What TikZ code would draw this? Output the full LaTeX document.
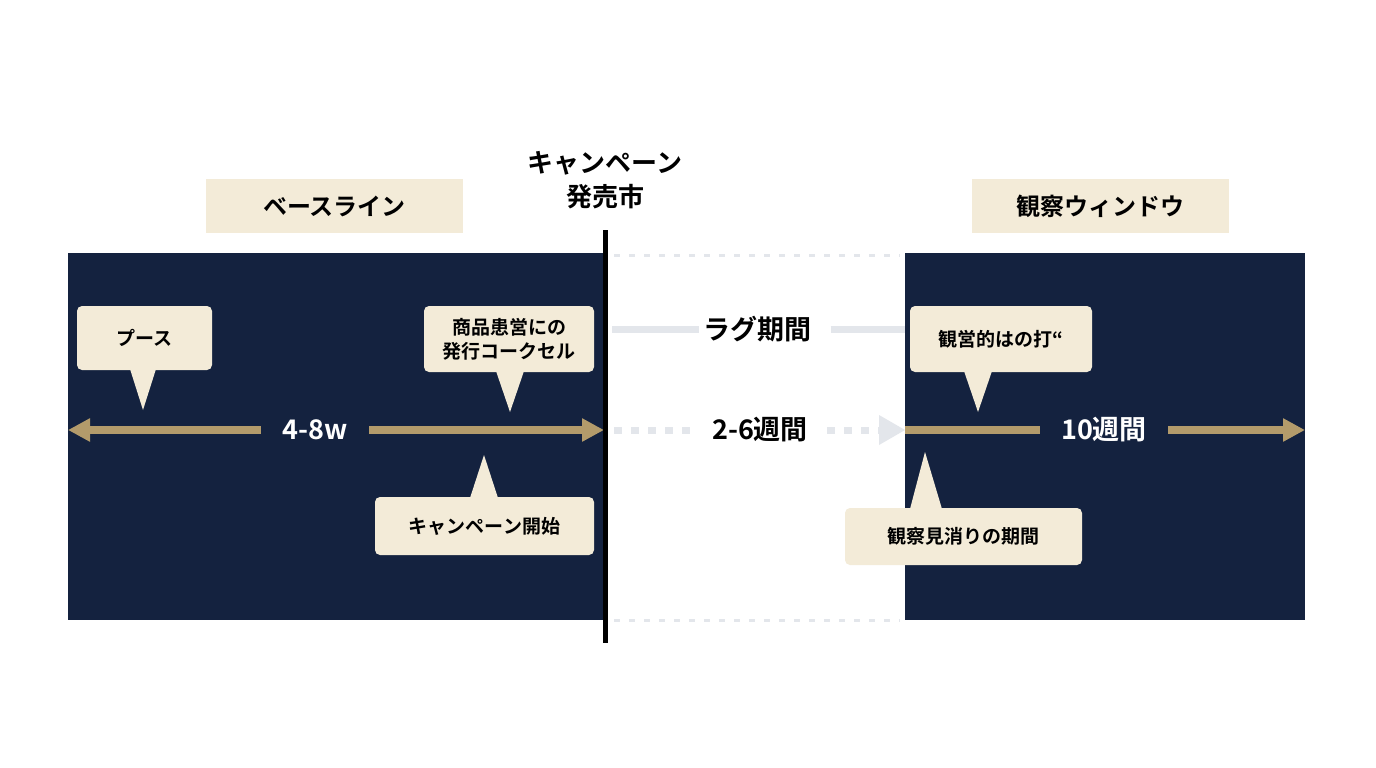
\documentclass[tikz,border=0pt]{standalone}
\usepackage{fontspec}
\newfontfamily\cjk{Noto Sans CJK JP}[BoldFont={Noto Sans CJK JP Bold}]
\usetikzlibrary{arrows.meta}
\definecolor{navy}{HTML}{14223F}
\definecolor{beige}{HTML}{F3EBD8}
\definecolor{gold}{HTML}{B39B6B}
\definecolor{lgrey}{HTML}{E3E6EB}
\tikzset{
  panel/.style={fill=navy,draw=none},
  tag/.style={fill=beige,draw=none,font=\cjk\bfseries\fontsize{24}{28}\selectfont,inner sep=0pt,anchor=center},
  callout/.style={fill=beige,draw=none,rounded corners=5pt,font=\cjk\bfseries\fontsize{19}{24}\selectfont,align=center,inner sep=0pt,anchor=center},
  tail/.style={fill=beige,draw=none},
  goldline/.style={draw=gold,line width=8pt},
  greyline/.style={draw=lgrey,line width=7pt},
  dots/.style={draw=lgrey,line width=3pt,dash pattern=on 6pt off 9pt},
  bigdots/.style={draw=lgrey,line width=7pt,dash pattern=on 8pt off 9pt},
  midtext/.style={font=\cjk\bfseries\fontsize{27}{30}\selectfont,text=black},
  wtext/.style={font=\cjk\bfseries\fontsize{27}{30}\selectfont,text=white}
}
\begin{document}
\begin{tikzpicture}[x=1pt,y=-1pt]
\useasboundingbox[fill=white] (0,0) rectangle (1376,768);
\fill[panel] (68,253) rectangle (604,620);
\fill[panel] (905,253) rectangle (1305,620);
% dotted frame lines
\draw[dots] (614,255) -- (900,255);
\draw[dots] (614,620) -- (900,620);
% lag
\node[midtext] (lag) at (757,329) {ラグ期間};
\coordinate (lagL) at (612,329);
\coordinate (lagR) at (905,329);
\draw[greyline] (lagL) -- (lag.west) ++(-18,0);
\draw[greyline] (lagL) -- ([xshift=-16pt]lag.west);
\draw[greyline] ([xshift=16pt]lag.east) -- (lagR);
% middle dotted arrow
\node[midtext] (mid) at (760,430) {2-6週間};
\coordinate (midL) at (614,430);
\coordinate (midR) at (905,430);
\draw[bigdots] (midL) -- ([xshift=-16pt]mid.west);
\draw[bigdots] ([xshift=16pt]mid.east) -- ([xshift=-26pt]midR);
\fill[lgrey] ([xshift=-26pt,yshift=-15pt]midR) -- (midR) -- ([xshift=-26pt,yshift=15pt]midR) -- cycle;
% left gold arrow
\node[wtext] (lw) at (315,430) {4-8w};
\coordinate (lL) at (68,430);
\coordinate (lR) at (604,430);
\draw[goldline,{Triangle[width=22pt,length=22pt]}-] (lL) -- ([xshift=-18pt]lw.west);
\draw[goldline,-{Triangle[width=22pt,length=22pt]}] ([xshift=18pt]lw.east) -- (lR);
% right gold
\node[wtext] (rw) at (1104,430) {10週間};
\coordinate (rL) at (905,430);
\coordinate (rR) at (1305,430);
\draw[goldline] (rL) -- ([xshift=-18pt]rw.west);
\draw[goldline,-{Triangle[width=22pt,length=22pt]}] ([xshift=18pt]rw.east) -- (rR);
% divider
\coordinate (dT) at (605,230);
\coordinate (dB) at (605,643);
\draw[black,line width=5pt] (dT) -- (dB);
% tags
\node[tag,minimum width=257pt,minimum height=54pt] (base) at (334.5,206) {ベースライン};
\node[tag,minimum width=257pt,minimum height=54pt] (obs) at (1100.5,206) {観察ウィンドウ};
\node[font=\cjk\bfseries\fontsize{26}{34}\selectfont,align=center] (launch) at (605,180) {キャンペーン\\発売市};
% callouts
\node[callout,minimum width=135pt,minimum height=64pt] (c1) at (144.5,338) {プース};
\fill[tail] (130,369) -- (143,410) -- (156,369) -- cycle;
\node[callout,minimum width=170pt,minimum height=66pt] (c2) at (509,339) {商品患営にの\\発行コークセル};
\fill[tail] (496,371) -- (510,412) -- (524,371) -- cycle;
\node[callout,minimum width=219pt,minimum height=58pt] (c3) at (484.5,526) {キャンペーン開始};
\fill[tail] (470,498) -- (484,455) -- (498,498) -- cycle;
\node[callout,minimum width=182pt,minimum height=66pt] (c4) at (1001,339) {観営的はの打“};
\fill[tail] (964,371) -- (978,412) -- (992,371) -- cycle;
\node[callout,minimum width=237pt,minimum height=57pt] (c5) at (963.5,536.5) {観察見消りの期間};
\fill[tail] (910,509) -- (925,452) -- (942,509) -- cycle;
\end{tikzpicture}
\end{document}
